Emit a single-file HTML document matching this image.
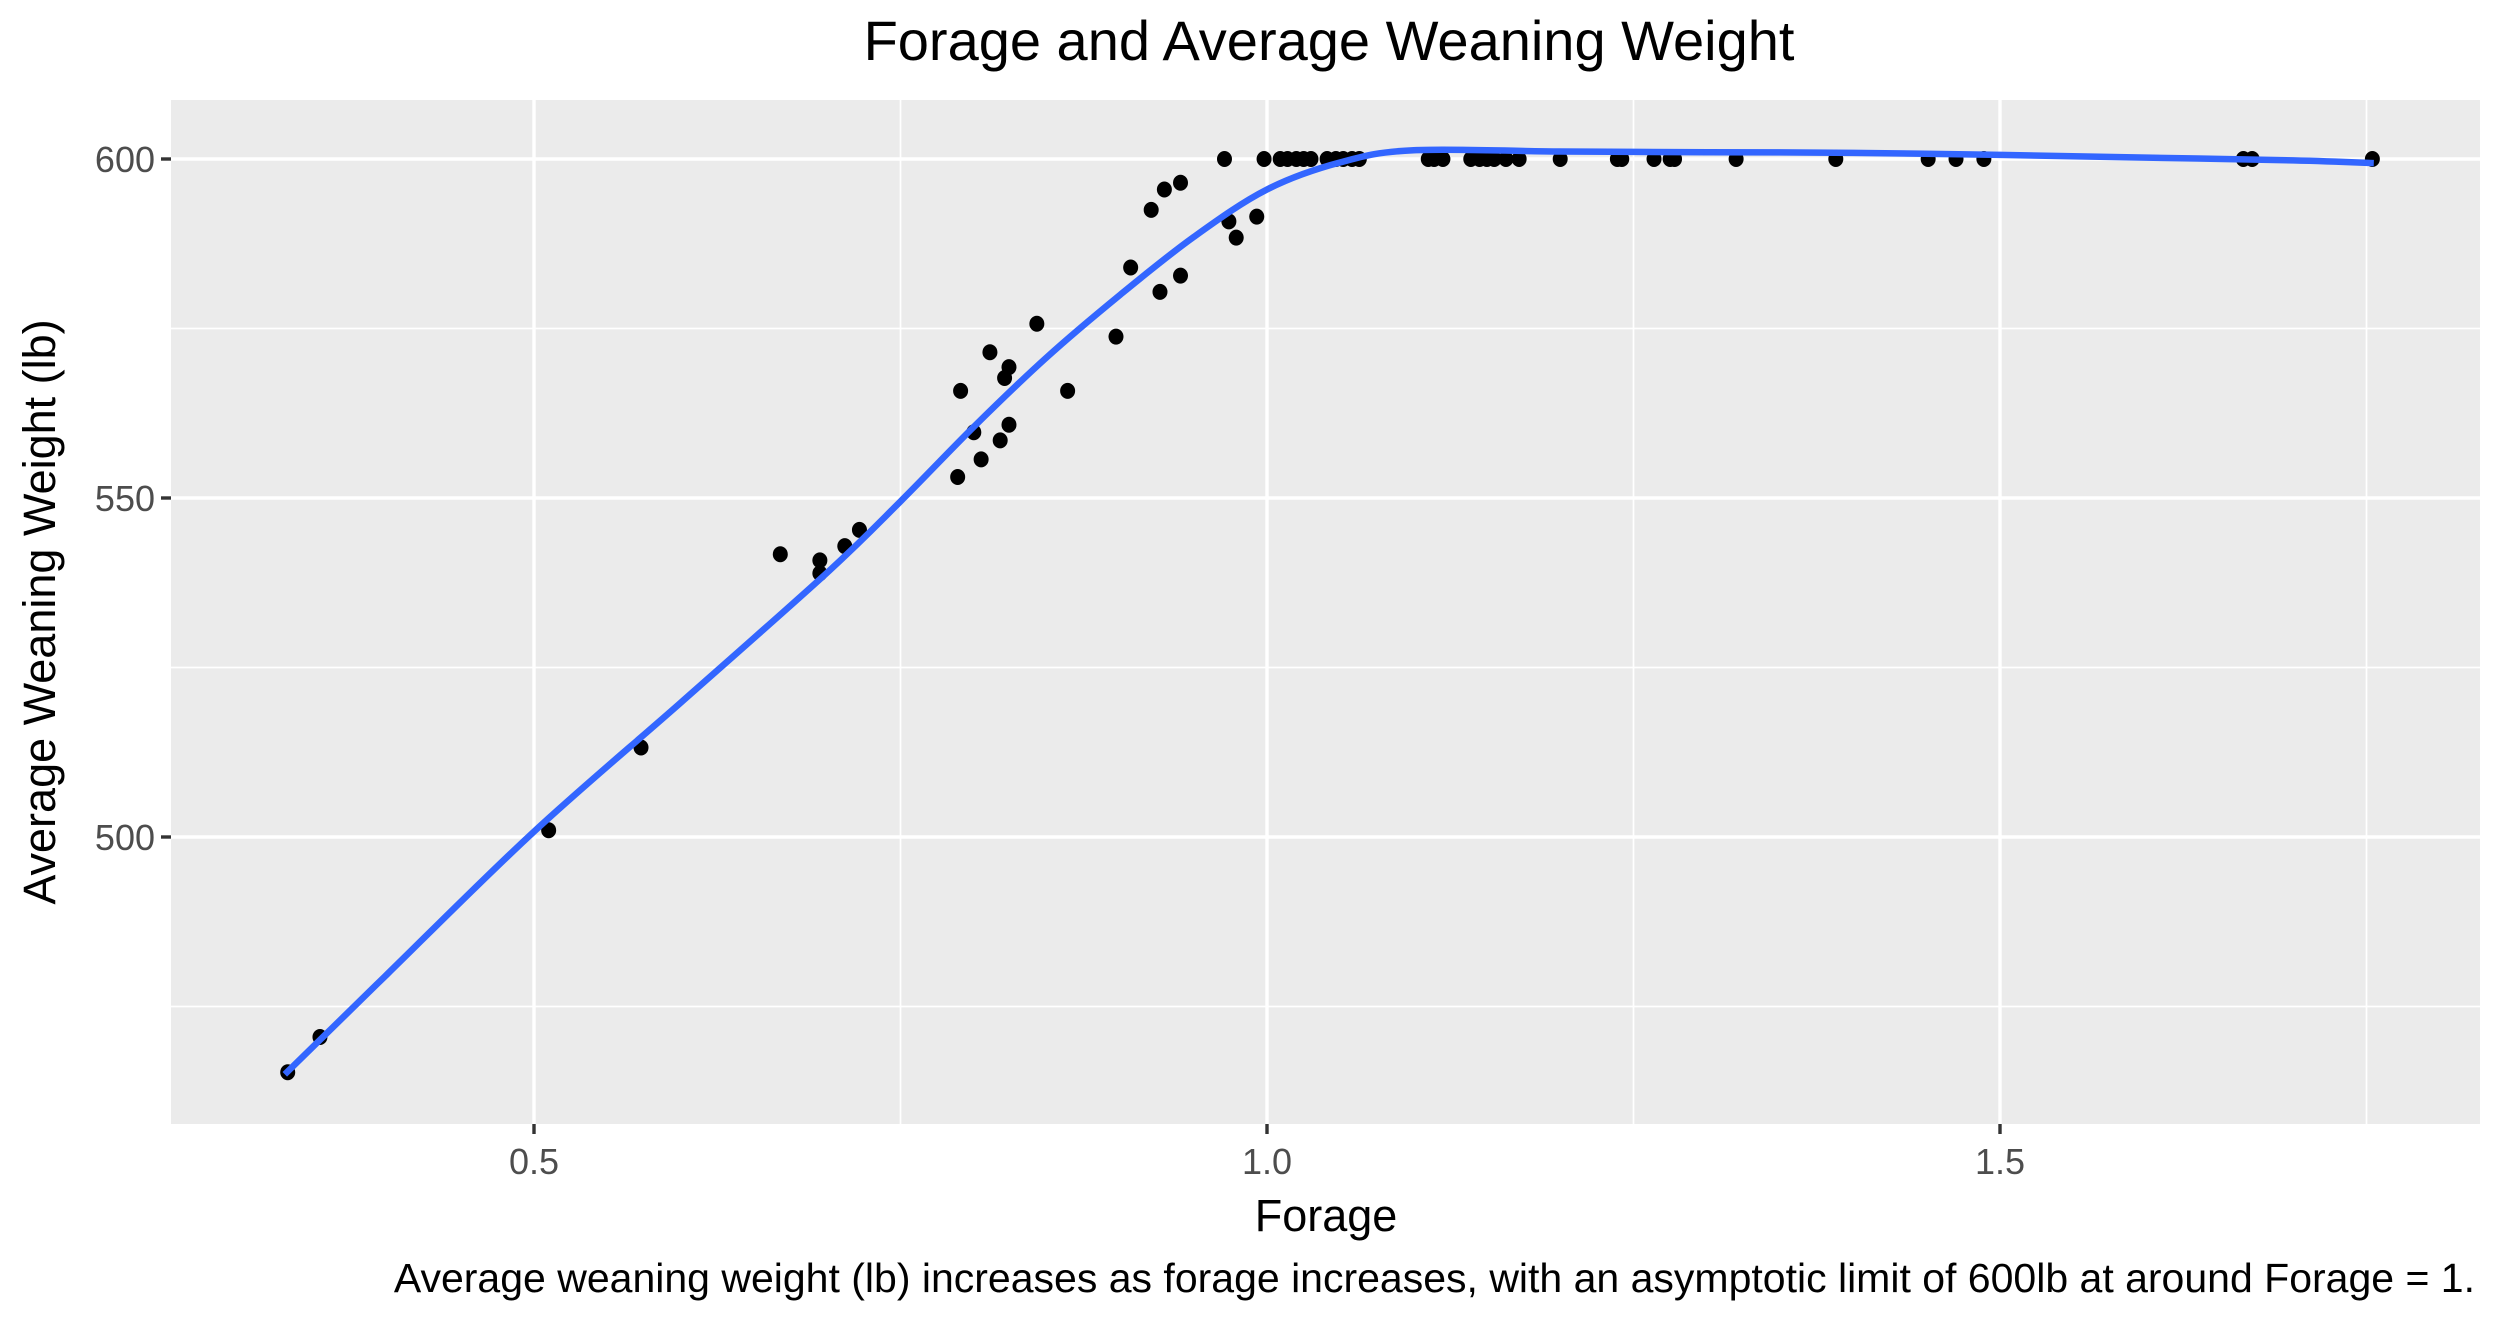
<!DOCTYPE html>
<html><head><meta charset="utf-8"><style>
html,body{margin:0;padding:0;background:#fff;}
svg{display:block;font-family:"Liberation Sans",Arial,sans-serif;}
</style></head><body>
<svg id="chart" width="2509" height="1325" viewBox="0 0 2509 1325" xmlns="http://www.w3.org/2000/svg">
<rect x="0" y="0" width="2509" height="1325" fill="#fff"/>
<rect x="171" y="100" width="2309" height="1024" fill="#ebebeb"/>
<g id="grid"></g>
<g id="points"></g>
<g id="smooth"></g>
<g id="axes"></g>
<text x="1329" y="60" font-size="56" text-anchor="middle" fill="#000">Forage and Average Weaning Weight</text>
<text x="1326" y="1231" font-size="45" text-anchor="middle" fill="#000">Forage</text>
<text x="0" y="0" font-size="45" text-anchor="middle" fill="#000" transform="translate(55,612) rotate(-90)">Average Weaning Weight (lb)</text>
<text x="2475" y="1292" font-size="41" text-anchor="end" fill="#000">Average weaning weight (lb) increases as forage increases, with an asymptotic limit of 600lb at around Forage = 1.</text>
</svg>
<script>
const pointForage = [0.332,0.354,0.510,0.573,0.668,0.695,0.695,0.712,0.722,0.789,0.791,0.800,0.805,0.811,0.818,0.821,0.824,0.824,0.843,0.864,0.897,0.907,0.921,0.927,0.930,0.941,0.941,0.971,0.974,0.979,0.993,0.998,
1.009,1.014,1.020,1.025,1.030,1.041,1.047,1.052,1.058,1.063,1.110,1.114,1.120,1.139,1.145,1.150,1.155,1.163,1.172,1.200,1.239,1.242,1.264,1.275,1.278,1.320,1.388,1.451,1.470,1.489,1.666,1.672,1.754];
const pointWeight = [465.3,470.5,501,513.2,541.7,540.8,538.9,542.9,545.3,553.1,565.8,559.7,555.7,571.5,558.5,567.7,569.3,560.8,575.7,565.8,573.8,584,592.5,580.4,595.5,596.5,582.8,600,590.8,588.4,591.5,600,
600,600,600,600,600,600,600,600,600,600,600,600,600,600,600,600,600,600,600,600,600,600,600,600,600,600,600,600,600,600,600,600,600];
const smoothForage = [0.33,0.4,0.5,0.6,0.7,0.75,0.8,0.85,0.9,0.95,1.0,1.05,1.1,1.2,1.3,1.4,1.5,1.6,1.7,1.755];
const smoothWeight = [465,479.8,500.8,519.8,539,549.5,560.5,570.8,580,588.5,595.5,599.5,601.3,601.1,601,600.9,600.6,600.2,599.8,599.4];
const xTicks = [0.5,1.0,1.5];
const xTickLabels = ["0.5","1.0","1.5"];
const xMinor = [0.25,0.75,1.25,1.75];
const yTicks = [500,550,600];
const yTickLabels = ["500","550","600"];
const yMinor = [475,525,575];

const NS='http://www.w3.org/2000/svg';
const X0=171,X1=2480,Y0=100,Y1=1124;
function sx(v){return 1267+(v-1)*1466;}
function sy(v){return 159+(600-v)*6.78;}
function mk(tag,attrs,parent){const e=document.createElementNS(NS,tag);for(const k in attrs)e.setAttribute(k,attrs[k]);parent.appendChild(e);return e;}
const grid=document.getElementById('grid'),axes=document.getElementById('axes');
xMinor.forEach(v=>{const l=mk('line',{x1:sx(v),x2:sx(v),y1:Y0,y2:Y1,stroke:'#fff','stroke-width':1.7},grid);

});
yMinor.forEach(v=>{const l=mk('line',{x1:X0,x2:X1,y1:sy(v),y2:sy(v),stroke:'#fff','stroke-width':1.7},grid);

});
xTicks.forEach((v,i)=>{const l=mk('line',{x1:sx(v),x2:sx(v),y1:Y0,y2:Y1,stroke:'#fff','stroke-width':3.4},grid);


const t=mk('line',{x1:sx(v),x2:sx(v),y1:Y1,y2:Y1+10,stroke:'#333','stroke-width':3.4},axes);


const tx=mk('text',{x:sx(v),y:1174,'font-size':36,'text-anchor':'middle',fill:'#4d4d4d'},axes);
tx.textContent=xTickLabels[i];

});
yTicks.forEach((v,i)=>{const l=mk('line',{x1:X0,x2:X1,y1:sy(v),y2:sy(v),stroke:'#fff','stroke-width':3.4},grid);


const t=mk('line',{x1:X0-10,x2:X0,y1:sy(v),y2:sy(v),stroke:'#333','stroke-width':3.4},axes);


const tx=mk('text',{x:X0-16,y:sy(v)+13,'font-size':36,'text-anchor':'end',fill:'#4d4d4d'},axes);
tx.textContent=yTickLabels[i];

});
const pts=document.getElementById('points');
pointForage.forEach((v,i)=>{const c=mk('ellipse',{cx:sx(v),cy:sy(pointWeight[i]),rx:7.5,ry:8,fill:'#000'},pts);

});
// Catmull-Rom smoothing through the smooth-line data
const P=smoothForage.map((v,i)=>[sx(v),sy(smoothWeight[i])]);
let d='M'+P[0][0].toFixed(1)+','+P[0][1].toFixed(1);
for(let i=0;i<P.length-1;i++){
 const p0=P[Math.max(0,i-1)],p1=P[i],p2=P[i+1],p3=P[Math.min(P.length-1,i+2)];
 const c1=[p1[0]+(p2[0]-p0[0])/6,p1[1]+(p2[1]-p0[1])/6];
 const c2=[p2[0]-(p3[0]-p1[0])/6,p2[1]-(p3[1]-p1[1])/6];
 d+='C'+c1[0].toFixed(1)+','+c1[1].toFixed(1)+' '+c2[0].toFixed(1)+','+c2[1].toFixed(1)+' '+p2[0].toFixed(1)+','+p2[1].toFixed(1);
}
const p=mk('path',{d:d,fill:'none',stroke:'#3366ff','stroke-width':6.5,'stroke-linejoin':'round','stroke-linecap':'butt'},document.getElementById('smooth'));


</script>
</body></html>
